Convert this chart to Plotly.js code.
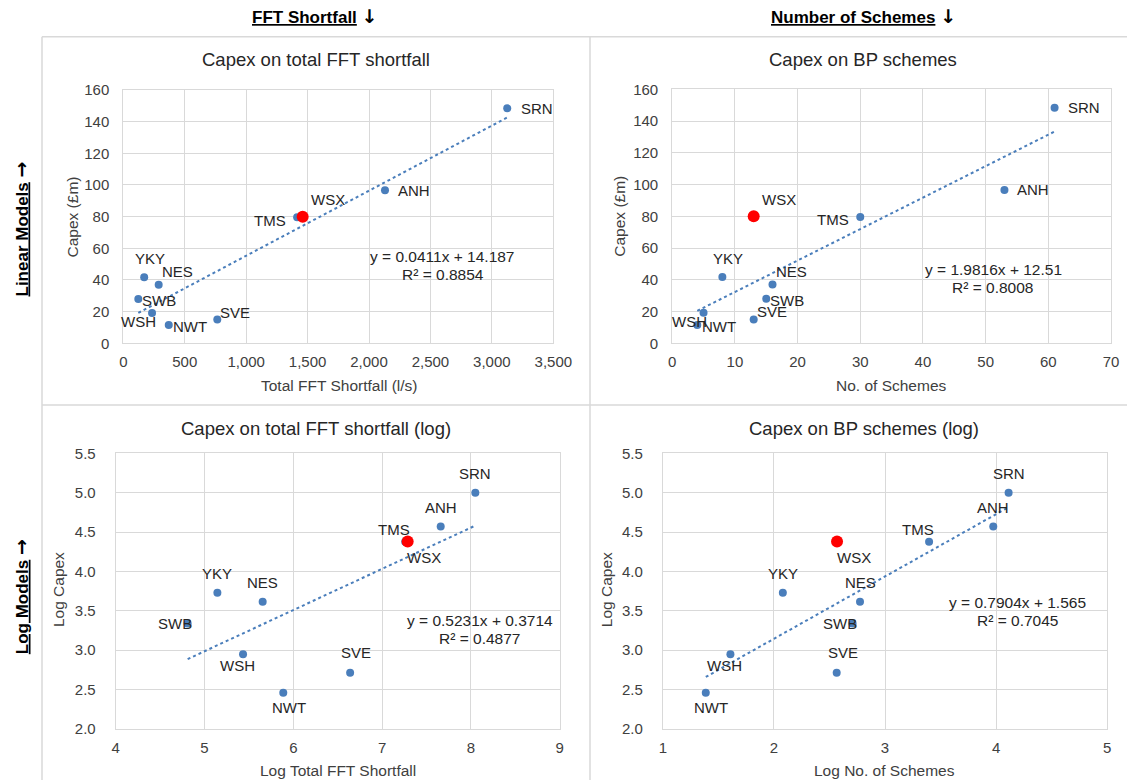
<!DOCTYPE html>
<html><head><meta charset="utf-8">
<script src="https://cdn.plot.ly/plotly-3.0.1.min.js"></script>
<style>html,body{margin:0;padding:0;background:#fff}#chart{width:1127px;height:780px}</style>
</head><body><div id="chart"></div>
<script>
// ---- data ----
const companies   = ['SRN','ANH','TMS','WSX','YKY','NES','SWB','WSH','NWT','SVE'];
const capex       = [148.4, 96.6, 79.6, 80.0, 41.7, 37.0, 28.0, 19.2, 11.6, 15.0];
const fftShortfall= [3125, 2130, 1415, 1460, 170, 288, 122, 234, 370, 765];
const schemes     = [61, 53, 30, 13, 8, 16, 15, 5, 4, 13];
const logCapex    = [5.00, 4.57, 4.377, 4.38, 3.73, 3.615, 3.34, 2.95, 2.46, 2.714];
const logFFT      = [8.05, 7.66, 7.26, 7.288, 5.145, 5.655, 4.81, 5.434, 5.887, 6.64];
const logSchemes  = [4.113, 3.975, 3.397, 2.568, 2.08, 2.775, 2.708, 1.608, 1.386, 2.565];
const highlight   = 'WSX';
const trendSlope     = [0.0411, 1.9816, 0.5231, 0.7904];
const trendIntercept = [14.187, 12.51, 0.3714, 1.565];
const trendR2        = ['0.8854', '0.8008', '0.4877', '0.7045'];
const slopeText      = ['0.0411', '1.9816', '0.5231', '0.7904'];
const interceptText  = ['14.187', '12.51', '0.3714', '1.565'];
const chartTitles = ['Capex on total FFT shortfall','Capex on BP schemes','Capex on total FFT shortfall (log)','Capex on BP schemes (log)'];
const xTitles = ['Total FFT Shortfall (l/s)','No. of Schemes','Log Total FFT Shortfall','Log No. of Schemes'];
const yTitles = ['Capex (£m)','Capex (£m)','Log Capex','Log Capex'];
const colHeaders = ['FFT Shortfall','Number of Schemes'];
const rowHeaders = ['Linear Models','Log Models'];

// ---- styling / layout (pixels) ----
const W = 1127, H = 780;
const FONT = '"Liberation Sans", Arial, sans-serif';
const BLUE = '#4a7ebb', RED = '#ff0000', GRID = '#d9d9d9', TXT = '#404040';
const px = v => v / W, py = v => 1 - v / H;

// label offsets [dx, dy] in px (dy down positive)
const linOff = {SRN:[29.5,0],ANH:[29,0],TMS:[-27,3],WSX:[25,-17],YKY:[5.5,-19],NES:[18.5,-13],SWB:[21,1.5],WSH:[-14,9],NWT:[21.5,1.5],SVE:[18,-7.5]};
const logOff = {SRN:[0,-19],ANH:[0,-19],TMS:[-11,-12.4],WSX:[16.5,15.7],YKY:[0,-19],NES:[0,-19],SWB:[-13,0],WSH:[-5.5,11],NWT:[5.5,15],SVE:[6,-20]};

const panels = [
  {xs: fftShortfall, ys: capex, box:[123.3,90,553.3,343.3], xr:[0,3500], xd:500, yr:[0,160], yd:20, xf:',', yf:'', off: linOff,
   title:[316,60], xt:[338.5,385], yt:[72,217.5], eq:[442.5,256.7,443,274], ystand:10},
  {xs: schemes, ys: capex, box:[672.2,89.3,1111,343.3], xr:[0,70], xd:10, yr:[0,160], yd:20, xf:'', yf:'', off: linOff,
   title:[863,60], xt:[891,385], yt:[620,216.7], eq:[993,269.3,992.7,287], ystand:10},
  {xs: logFFT, ys: logCapex, box:[115.7,453.3,559.7,729], xr:[4,9], xd:1, yr:[2,5.5], yd:0.5, xf:'', yf:'.1f', off: logOff,
   title:[316.3,428.3], xt:[337.5,770], yt:[58.3,589.8], eq:[480,620.7,479.5,638.3], ystand:16},
  {xs: logSchemes, ys: logCapex, box:[662.9,453.3,1107.1,729], xr:[1,5], xd:1, yr:[2,5.5], yd:0.5, xf:'', yf:'.1f', off: logOff,
   title:[864.3,428.3], xt:[884.5,770], yt:[606.4,589.8], eq:[1017,602.7,1017,620.7], ystand:16}
];

const traces = [], annotations = [], layout = {
  width: W, height: H, margin:{l:0,r:0,t:0,b:0}, paper_bgcolor:'#fff', plot_bgcolor:'#fff',
  showlegend:false, hovermode:false, font:{family:FONT, color:TXT}
};

panels.forEach((p, k) => {
  const n = k + 1, xa = n === 1 ? 'x' : 'x' + n, ya = n === 1 ? 'y' : 'y' + n;
  const xkey = n === 1 ? 'xaxis' : 'xaxis' + n, ykey = n === 1 ? 'yaxis' : 'yaxis' + n;
  const axCommon = {showgrid:true, gridcolor:GRID, gridwidth:1, showline:true, mirror:true, linecolor:GRID, linewidth:1,
    zeroline:false, ticks:'', tickfont:{family:FONT, size:15, color:TXT}, fixedrange:true};
  layout[xkey] = Object.assign({}, axCommon, {domain:[px(p.box[0]), px(p.box[2])], range:p.xr, dtick:p.xd, tick0:p.xr[0],
    tickmode:'linear', tickformat:p.xf, anchor:ya, ticklabelstandoff:5});
  layout[ykey] = Object.assign({}, axCommon, {domain:[py(p.box[3]), py(p.box[1])], range:p.yr, dtick:p.yd, tick0:p.yr[0],
    tickmode:'linear', tickformat:p.yf, anchor:xa, ticklabelstandoff:p.ystand});

  // trendline from fitted coefficients over the data's x span
  const x0 = Math.min(...p.xs), x1 = Math.max(...p.xs);
  traces.push({type:'scatter', mode:'lines', xaxis:xa, yaxis:ya, x:[x0, x1],
    y:[trendSlope[k]*x0 + trendIntercept[k], trendSlope[k]*x1 + trendIntercept[k]],
    line:{color:BLUE, width:2, dash:'dot'}, hoverinfo:'skip'});
  traces.push({type:'scatter', mode:'markers', xaxis:xa, yaxis:ya, x:p.xs, y:p.ys,
    marker:{color:BLUE, size:8}, hoverinfo:'skip'});
  const hi = companies.indexOf(highlight);
  traces.push({type:'scatter', mode:'markers', xaxis:xa, yaxis:ya, x:[p.xs[hi]], y:[p.ys[hi]],
    marker:{color:RED, size:12}, hoverinfo:'skip'});

  // data labels
  companies.forEach((c, i) => {
    const o = p.off[c];
    annotations.push({xref:xa, yref:ya, x:p.xs[i], y:p.ys[i], text:c, showarrow:false,
      xanchor:'center', yanchor:'middle', xshift:o[0], yshift:-o[1], font:{family:FONT, size:15, color:'#262626'}});
  });

  // equation
  annotations.push({xref:'paper', yref:'paper', x:px(p.eq[0]), y:py(p.eq[1]), xanchor:'center', yanchor:'middle', showarrow:false,
    text:'y = ' + slopeText[k] + 'x + ' + interceptText[k], font:{family:FONT, size:15.5, color:'#262626'}});
  annotations.push({xref:'paper', yref:'paper', x:px(p.eq[2]), y:py(p.eq[3]), xanchor:'center', yanchor:'middle', showarrow:false,
    text:'R² = ' + trendR2[k], font:{family:FONT, size:15.5, color:'#262626'}});

  // titles
  annotations.push({xref:'paper', yref:'paper', x:px(p.title[0]), y:py(p.title[1]), xanchor:'center', yanchor:'middle', showarrow:false,
    text:chartTitles[k], font:{family:FONT, size:18.5, color:'#262626'}});
  annotations.push({xref:'paper', yref:'paper', x:px(p.xt[0]), y:py(p.xt[1]), xanchor:'center', yanchor:'middle', showarrow:false,
    text:xTitles[k], font:{family:FONT, size:15.5, color:TXT}});
  annotations.push({xref:'paper', yref:'paper', x:px(p.yt[0]), y:py(p.yt[1]), xanchor:'center', yanchor:'middle', showarrow:false,
    textangle:-90, text:yTitles[k], font:{family:FONT, size:15.5, color:TXT}});
});

// column / row headers (arrow drawn in DejaVu Sans for a full-size glyph)
const ARROW = s => '<span style="font-family:DejaVu Sans;font-size:19px">' + s + '</span>';
[[315, 16], [863, 16]].forEach((pos, j) => {
  annotations.push({xref:'paper', yref:'paper', x:px(pos[0]), y:py(pos[1]), xanchor:'center', yanchor:'middle', showarrow:false,
    text:'<b><u>' + colHeaders[j] + '</u> ' + ARROW('\u2193') + '</b>', font:{family:FONT, size:17, color:'#000'}});
});
[[20.5, 229], [20.5, 596.7]].forEach((pos, j) => {
  annotations.push({xref:'paper', yref:'paper', x:px(pos[0]), y:py(pos[1]), xanchor:'center', yanchor:'middle', showarrow:false,
    textangle:-90, text:'<b><u>' + rowHeaders[j] + '</u> ' + ARROW('\u2192') + '</b>', font:{family:FONT, size:17, color:'#000'}});
});
layout.annotations = annotations;

// panel frame lines
const frame = {color:GRID, width:1.5};
layout.shapes = [
  {type:'line', xref:'paper', yref:'paper', x0:px(42), x1:1, y0:py(36.7), y1:py(36.7), line:frame},
  {type:'line', xref:'paper', yref:'paper', x0:px(42), x1:1, y0:py(405), y1:py(405), line:frame},
  {type:'line', xref:'paper', yref:'paper', x0:px(42), x1:px(42), y0:py(36.7), y1:0, line:frame},
  {type:'line', xref:'paper', yref:'paper', x0:px(590), x1:px(590), y0:py(36.7), y1:0, line:frame}
];

Plotly.newPlot('chart', traces, layout, {staticPlot:true, displayModeBar:false});
</script></body></html>
